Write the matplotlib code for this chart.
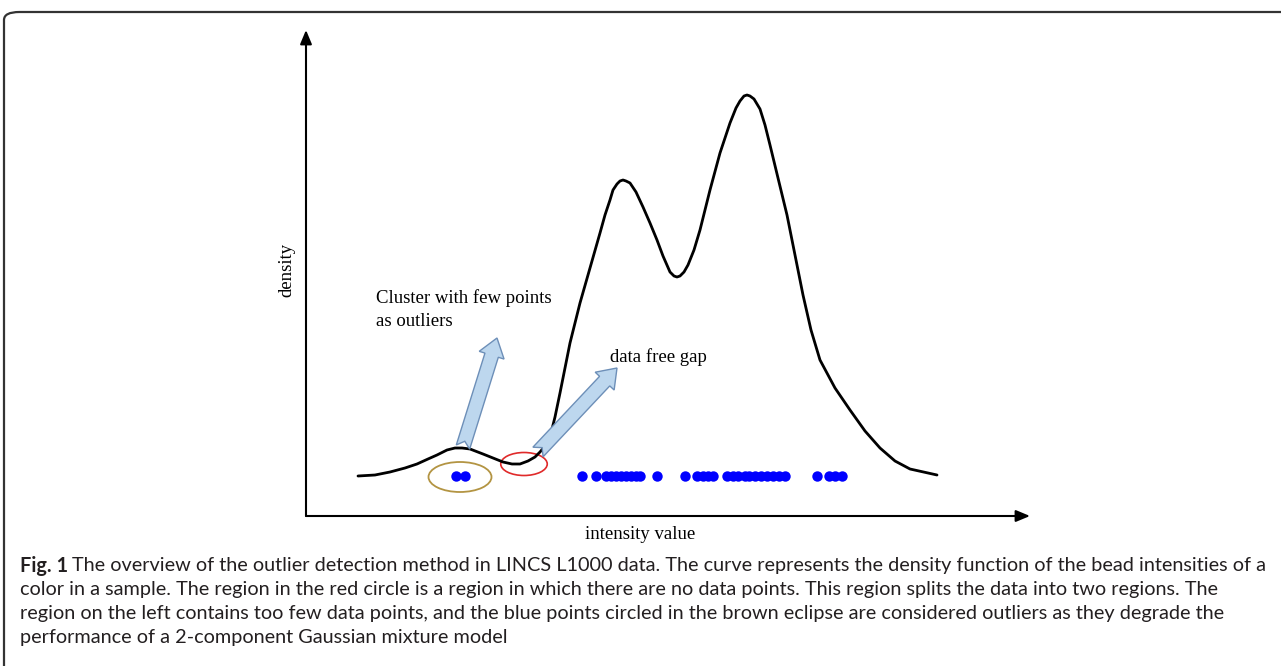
import numpy as np
import matplotlib
matplotlib.use('Agg')
import matplotlib.pyplot as plt
from matplotlib.patches import Ellipse, Polygon, FancyBboxPatch

# Density curve (intensity, density), arbitrary units
curve_x = [1.04, 1.38, 1.68, 1.98, 2.22, 2.44, 2.62, 2.82, 2.98, 3.12, 3.28, 3.54, 3.74,
           3.94, 4.12, 4.28, 4.44, 4.58, 4.68, 4.78, 4.88, 4.98, 5.08, 5.18, 5.28, 5.48,
           5.68, 5.88, 5.98, 6.08, 6.14, 6.22, 6.28, 6.34, 6.40, 6.48, 6.60, 6.74, 6.88,
           7.02, 7.14, 7.28, 7.36, 7.42, 7.48, 7.56, 7.64, 7.76, 7.88, 8.08, 8.28, 8.48,
           8.60, 8.68, 8.76, 8.82, 8.88, 8.96, 9.08, 9.18, 9.28, 9.44, 9.62, 9.78, 9.94,
           10.10, 10.28, 10.58, 10.88, 11.18, 11.48, 11.78, 12.08, 12.62]
curve_y = [0.40, 0.41, 0.44, 0.48, 0.52, 0.57, 0.61, 0.66, 0.68, 0.68, 0.67, 0.62, 0.58,
           0.54, 0.52, 0.52, 0.55, 0.59, 0.64, 0.70, 0.79, 0.99, 1.23, 1.48, 1.73, 2.13,
           2.48, 2.83, 3.01, 3.16, 3.26, 3.32, 3.35, 3.36, 3.35, 3.33, 3.24, 3.09, 2.93,
           2.76, 2.60, 2.44, 2.40, 2.39, 2.40, 2.44, 2.51, 2.66, 2.86, 3.26, 3.63, 3.93,
           4.08, 4.15, 4.20, 4.21, 4.20, 4.17, 4.07, 3.91, 3.71, 3.38, 3.01, 2.61, 2.21,
           1.86, 1.56, 1.28, 1.06, 0.85, 0.68, 0.55, 0.47, 0.41]

# Observed bead intensities (blue points)
outlier_x = [3.00, 3.18]
points_x = [5.52, 5.80, 6.00, 6.10, 6.20, 6.30, 6.40, 6.50, 6.60, 6.68, 7.02, 7.58, 7.82,
            7.94, 8.04, 8.14, 8.42, 8.54, 8.64, 8.78, 8.86, 8.98, 9.10, 9.22, 9.34, 9.46,
            9.58, 10.22, 10.46, 10.58, 10.72]
points_level = 0.40

caption = [
    "The overview of the outlier detection method in LINCS L1000 data. The curve represents the density function of the bead intensities of a",
    "color in a sample. The region in the red circle is a region in which there are no data points. This region splits the data into two regions. The",
    "region on the left contains too few data points, and the blue points circled in the brown eclipse are considered outliers as they degrade the",
    "performance of a 2-component Gaussian mixture model",
]

W, H = 1281, 666
fig = plt.figure(figsize=(W / 100, H / 100), dpi=100)

# rounded frame, open at right and bottom
frame = FancyBboxPatch((4 / W, -0.2), 1.2, 1.2 - 12 / H, boxstyle='round,pad=0,rounding_size=0.012',
                       transform=fig.transFigure, fill=False, ec='#333333', lw=1.6)
fig.patches.append(frame)

ax = fig.add_axes([306 / W, (H - 516) / H, 724 / W, 486 / H])
ax.set_xlim(0, 14.48)
ax.set_ylim(0, 4.86)
for s in ax.spines.values():
    s.set_visible(False)
ax.set_xticks([])
ax.set_yticks([])
ax.patch.set_alpha(0)

arrow_kw = dict(arrowstyle='-|>,head_length=0.6,head_width=0.25', color='black', lw=1.5,
                shrinkA=0, shrinkB=0, mutation_scale=14)
ax.annotate('', xy=(1, 0), xytext=(0, 0), xycoords='axes fraction', arrowprops=arrow_kw)
ax.annotate('', xy=(0, 1), xytext=(0, 0), xycoords='axes fraction', arrowprops=arrow_kw)

ax.plot(curve_x, curve_y, color='black', lw=2, solid_joinstyle='round',
        solid_capstyle='round')
ax.plot(outlier_x + points_x, [points_level] * (len(outlier_x) + len(points_x)), 'o',
        color='#0000ff', ms=7.5, mec='none')

ax.add_patch(Ellipse((3.08, 0.39), 1.26, 0.30, fill=False, ec='#b39442', lw=1.3))
ax.add_patch(Ellipse((4.36, 0.52), 0.93, 0.23, fill=False, ec='#e02a2a', lw=1.2))


def block_arrow(tail, tip):
    fig.canvas.draw()
    p0 = ax.transData.transform(tail)
    p1 = ax.transData.transform(tip)
    d = (p1 - p0) / np.linalg.norm(p1 - p0)
    n = np.array([-d[1], d[0]])
    w, hw, hl, notch = 7, 13, 18, 6
    base = p1 - d * hl
    pts = [p0 + n * w, base + n * w, base + n * hw, p1, base - n * hw, base - n * w,
           p0 - n * w, p0 + d * notch]
    fig.patches.append(Polygon(pts, closed=True, transform=None, fc='#bdd7ee',
                               ec='#6d8fb8', lw=1, zorder=5))


block_arrow((3.14, 0.69), (3.82, 1.78))
block_arrow((4.64, 0.64), (6.22, 1.48))

serif = 'Liberation Serif'
fs = 13.5
ax.text(1.40, 2.18, 'Cluster with few points', family=serif, fontsize=fs, va='center')
ax.text(1.40, 1.95, 'as outliers', family=serif, fontsize=fs, va='center')
ax.text(6.08, 1.59, 'data free gap', family=serif, fontsize=fs, va='center')
ax.text(-0.026, 0.506, 'density', family=serif, fontsize=fs, rotation=90,
        ha='center', va='center', transform=ax.transAxes)
ax.text(0.461, -0.039, 'intensity value', family=serif, fontsize=fs,
        ha='center', va='center', transform=ax.transAxes)

# caption
sans = 'Lato'
col = '#231f20'
rows = [566, 590, 614, 638]
size = 13
renderer = fig.canvas.get_renderer()
probe1 = fig.text(0, 0, 'Fig. 1 ', family=sans, fontsize=size, weight='bold')
probe2 = fig.text(0, 0, caption[0], family=sans, fontsize=size)
wid = probe1.get_window_extent(renderer).width + probe2.get_window_extent(renderer).width
probe1.remove()
probe2.remove()
size = size * (1262 - 20) / wid

lab = fig.text(20 / W, 1 - rows[0] / H, 'Fig. 1', family=sans, fontsize=size,
               weight='bold', va='center', color=col)
bw = lab.get_window_extent(renderer).width
fig.text((20 + bw + size * 0.3) / W, 1 - rows[0] / H, caption[0], family=sans,
         fontsize=size, va='center', color=col)
for row, line in zip(rows[1:], caption[1:]):
    fig.text(20 / W, 1 - row / H, line, family=sans, fontsize=size, va='center', color=col)

fig.savefig('out.png', dpi=100)
